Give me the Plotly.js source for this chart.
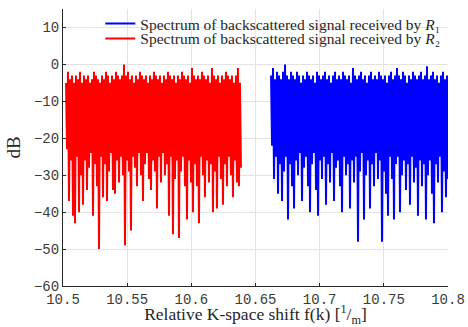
<!DOCTYPE html>
<html>
<head>
<meta charset="utf-8">
<script src="https://cdn.plot.ly/plotly-3.0.1.min.js"></script>
<style>html,body{margin:0;padding:0;background:#fff;}#chart{width:468px;height:327px;}</style>
</head>
<body>
<div id="chart"></div>
<script>
// Sampling grid of the spectra (relative K-space shift, 1/m)
const redStart = 10.50234;
const blueStart = 10.6621;
const sampleStep = 0.000779;

// Spectrum received by R2 (dB) (alternating peak / trough)
const redDb = [
  -5,-23, -2,-37, -4,-26, -3,-41, -5,-43, -3,-25, -4,-40, -2,-30, -5,-38, -3,-26,
  -4,-34, -3,-28, -5,-24, -4,-41, -2,-27, -3,-33, -4,-50, -5,-25, -3,-36, -4,-27,
  -2,-37, -3,-29, -5,-24, -3,-34, -4,-35, -2,-26, -3,-32, -4,-25, -3,-30,  0,-49,
  -3,-26, -2,-29, -4,-45, -3,-25, -5,-28, -3,-33, -4,-24, -2,-30, -3,-37, -4,-27,
  -3,-24, -5,-31, -3,-34, -4,-26, -2,-29, -3,-39, -4,-25, -3,-32, -5,-24, -3,-30,
  -4,-27, -2,-41, -3,-25, -4,-46, -3,-31, -5,-26, -3,-47, -4,-29, -2,-25, -3,-33,
  -4,-42, -3,-26, -5,-32, -1,-40, -3,-27, -4,-33, -3,-43, -4,-25, -2,-30, -3,-36,
  -4,-26, -3,-32, -5,-27, -1,-40, -3,-29, -4,-39, -3,-25, -5,-31, -3,-38, -4,-27,
  -2,-33, -3,-25, -4,-30, -3,-36, -5,-26, -3,-32, -1,-33, -5,-28
];

// Spectrum received by R1 (dB) (alternating peak / trough)
const blueDb = [
  -3,-22, -1,-31, -4,-25, -2,-35, -3,-27, -4,-37, -2,-29,  0,-25, -3,-42, -4,-27,
  -2,-33, -3,-39, -4,-26, -2,-30, -3,-24, -5,-37, -3,-28, -4,-25, -2,-33, -3,-40,
  -4,-27, -3,-24, -5,-34, -2,-41, -3,-26, -4,-31, -3,-25, -2,-38, -4,-27, -3,-32,
  -5,-24, -3,-37, -2,-28, -4,-26, -3,-33, -4,-40, -2,-25, -3,-30, -4,-27, -3,-39,
  -5,-26, -1,-32, -3,-25, -4,-48, -3,-29, -2,-24, -4,-42, -3,-30, -5,-26, -3,-39,
  -2,-27, -4,-33, -3,-24, -4,-31, -2,-26, -3,-48, -4,-29, -3,-35, -5,-41, -3,-25,
  -2,-31, -4,-42, -3,-27, -1,-25, -3,-40, -4,-30, -2,-26, -3,-34, -5,-27, -3,-38,
  -4,-25, -2,-32, -3,-28, -4,-41, -3,-26, -2,-33, -4,-27, -3,-42, -0.5,-30, -4,-26,
  -3,-35, -2,-43, -4,-27, -3,-32, -5,-25, -3,-40, -2,-29, -4,-36, -3,-31
];

const xTicks = [10.5, 10.55, 10.6, 10.65, 10.7, 10.75, 10.8];
const xTickText = ['10.5', '10.55', '10.6', '10.65', '10.7', '10.75', '10.8'];
const yTicks = [-60, -50, -40, -30, -20, -10, 0, 10];

const serif = '"Liberation Serif", "DejaVu Serif", serif';
const mono = '"Liberation Mono", "DejaVu Sans Mono", monospace';

const traces = [
  {
    type: 'scatter', mode: 'lines', legend: 'legend',
    name: 'Spectrum of backscattered signal received by <i>R</i>\u2081',
    x0: blueStart, dx: sampleStep, y: blueDb,
    line: {color: '#0000ff', width: 2}
  },
  {
    type: 'scatter', mode: 'lines', legend: 'legend2',
    name: 'Spectrum of backscattered signal received by <i>R</i>\u2082',
    x0: redStart, dx: sampleStep, y: redDb,
    line: {color: '#ff0000', width: 2}
  }
];

const axisCommon = {
  showgrid: true, gridcolor: '#e3e3e3', gridwidth: 1,
  zeroline: false, showline: true, linecolor: '#262626', linewidth: 1,
  ticks: 'inside', ticklen: 3, tickcolor: '#262626', mirror: false,
  tickfont: {family: mono, size: 14, color: '#3a3a3a'}
};

const legendCommon = {
  xanchor: 'right', yanchor: 'middle',
  bgcolor: 'rgba(255,255,255,0)', borderwidth: 0,
  font: {family: serif, size: 15.5, color: '#262626'},
  itemwidth: 30
};

const layout = {
  width: 468, height: 327,
  margin: {l: 63, r: 20, t: 8, b: 41},
  paper_bgcolor: '#ffffff', plot_bgcolor: '#ffffff',
  showlegend: true,
  legend: Object.assign({}, legendCommon, {x: 0.993, y: 0.9424}),
  legend2: Object.assign({}, legendCommon, {x: 0.993, y: 0.889}),
  xaxis: Object.assign({}, axisCommon, {
    range: [10.5, 10.8], tickvals: xTicks, ticktext: xTickText,
    title: {text: 'Relative K-space shift f(k) [<sup>1</sup>/<sub>m</sub>]',
            font: {family: serif, size: 17.5, color: '#262626'}, standoff: 2}
  }),
  yaxis: Object.assign({}, axisCommon, {
    range: [-60, 15], tickvals: yTicks,
    title: {text: 'dB', font: {family: serif, size: 19, color: '#262626'}, standoff: 8}
  })
};

Plotly.newPlot('chart', traces, layout, {displayModeBar: false, staticPlot: true});
</script>
</body>
</html>
